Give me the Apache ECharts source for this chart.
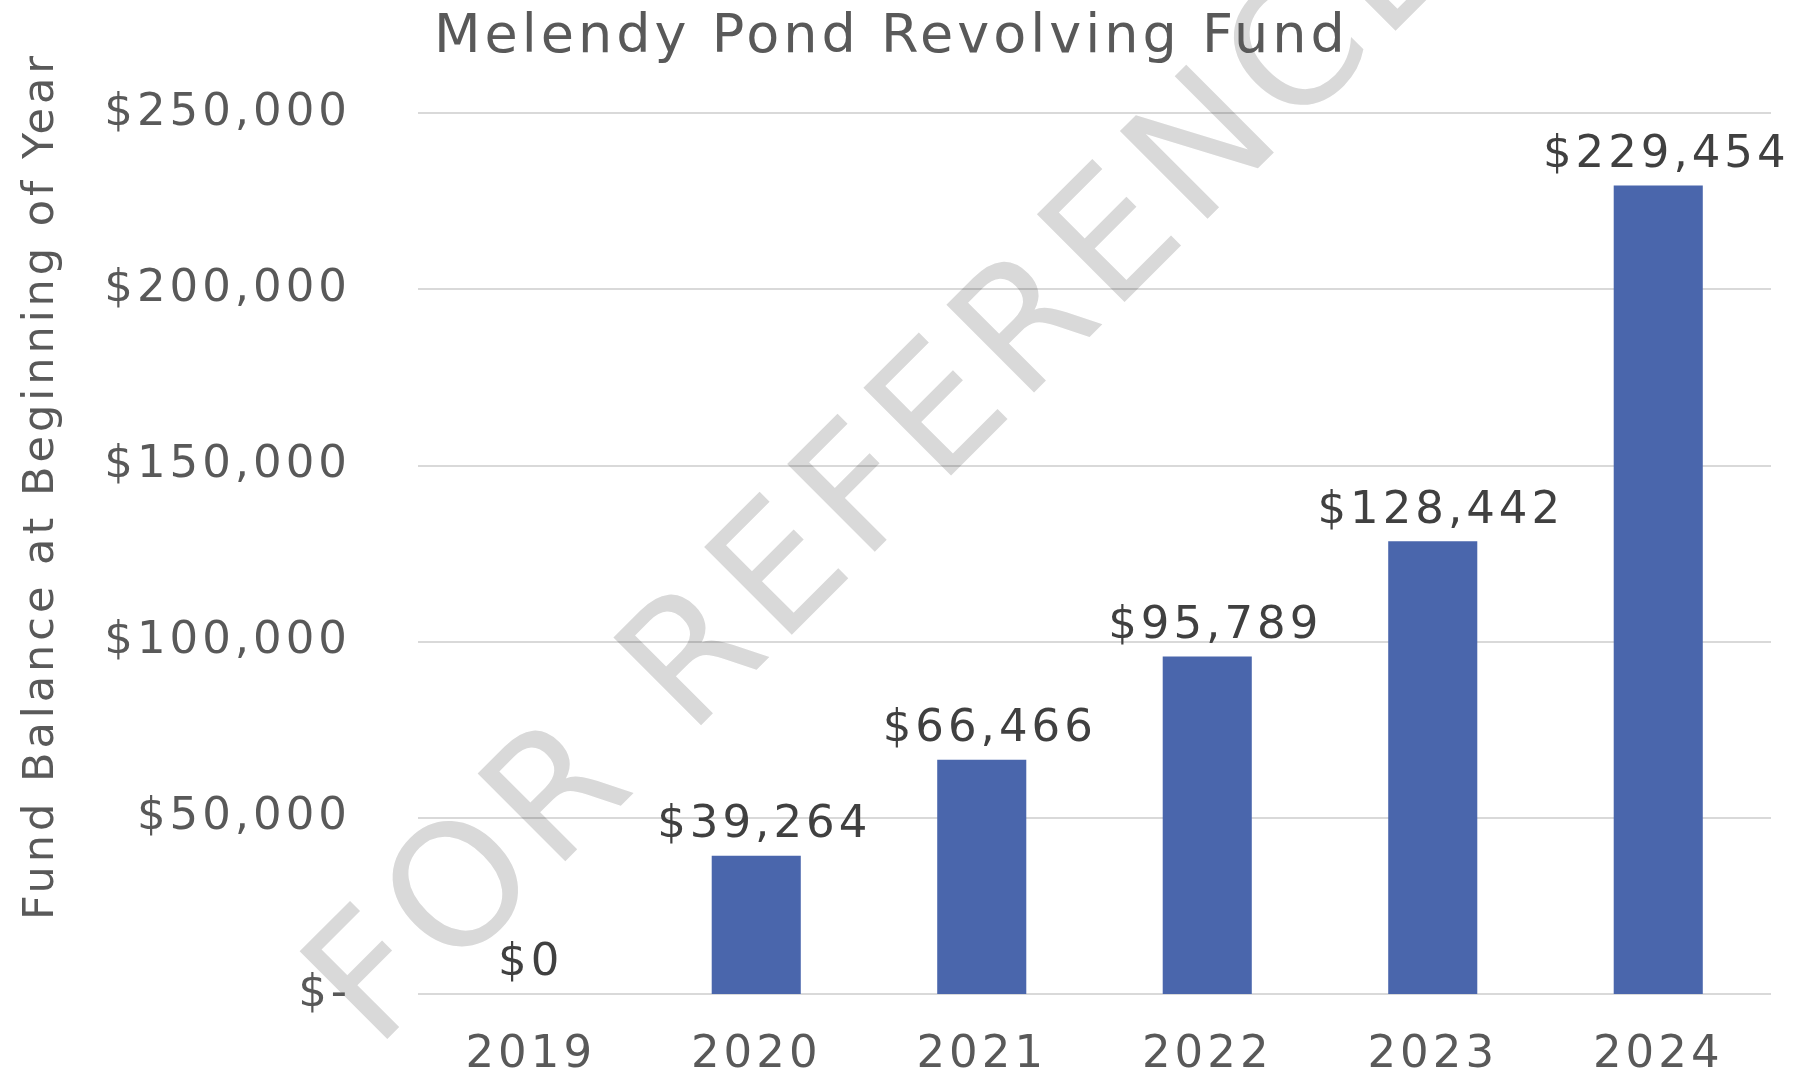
<!DOCTYPE html>
<html>
<head>
<meta charset="utf-8">
<title>Melendy Pond Revolving Fund</title>
<script src="https://cdn.jsdelivr.net/npm/echarts@6/dist/echarts.min.js"></script>
<style>
    html, body { margin: 0; padding: 0; background: #fff; }
    #main { width: 1810px; height: 1081px; }
</style>
</head>
<body>
<div id="main"></div>
<script>
var years = ['2019', '2020', '2021', '2022', '2023', '2024'];
var balances = [0, 39264, 66466, 95789, 128442, 229454];

var FONT = '"DejaVu Sans", Verdana, sans-serif';

function money(v) {
    return '$' + Number(v).toLocaleString('en-US');
}

var chart = {
    render: function () {
        var myChart = echarts.init(document.getElementById('main'));

        var option = {
            backgroundColor: '#ffffff',
            animation: false,

            title: {
                text: 'Melendy Pond Revolving Fund',
                left: 434,
                top: 11,
                padding: 0,
                textStyle: {
                    color: '#595959',
                    fontFamily: FONT,
                    fontSize: 54,
                    fontWeight: 'normal'
                }
            },

            grid: {
                left: 418,
                right: 39,
                top: 113,
                bottom: 87
            },

            xAxis: {
                type: 'category',
                data: years,
                // the zero split line of the y axis draws the base line
                axisLine: { show: false },
                axisTick: { show: false },
                axisLabel: {
                    color: '#595959',
                    fontFamily: FONT,
                    fontSize: 45,
                    margin: 39
                }
            },

            yAxis: {
                type: 'value',
                min: 0,
                max: 250000,
                interval: 50000,
                axisLine: { show: false },
                axisTick: { show: false },
                splitLine: { lineStyle: { color: 'rgba(0, 0, 0, 0.15)', width: 2 } },
                axisLabel: {
                    color: '#595959',
                    fontFamily: FONT,
                    fontSize: 45,
                    margin: 67,
                    formatter: function (v) {
                        return v === 0 ? '$-' : money(v);
                    }
                }
            },

            graphic: [
                {
                    // axis title
                    type: 'text',
                    x: 42,
                    y: 486,
                    rotation: Math.PI / 2,
                    style: {
                        text: 'Fund Balance at Beginning of Year',
                        fill: '#595959',
                        fontFamily: FONT,
                        fontSize: 43,
                        align: 'center',
                        verticalAlign: 'middle'
                    }
                },
                {
                    // watermark on its own layer under the chart
                    type: 'text',
                    zlevel: -1,
                    x: 890,
                    y: 474,
                    rotation: Math.PI / 4,
                    style: {
                        text: 'FOR REFERENCE',
                        fill: '#d9d9d9',
                        fontFamily: FONT,
                        fontSize: 170,
                        align: 'center',
                        verticalAlign: 'middle'
                    }
                }
            ],

            series: [
                {
                    type: 'bar',
                    data: balances.map(function (v) {
                        // Excel nudges the non-zero labels a bit to the right
                        return v === 0 ? { value: v, label: { padding: 0 } } : v;
                    }),
                    barWidth: '39.5%',
                    z: 3,
                    itemStyle: {
                        color: '#4A66AC'
                    },
                    label: {
                        show: true,
                        position: 'top',
                        distance: 8,
                        padding: [0, 0, 0, 16],
                        color: '#404040',
                        fontFamily: FONT,
                        fontSize: 45,
                        formatter: function (p) {
                            return money(p.value);
                        }
                    }
                }
            ]
        };

        myChart.setOption(option);

        // the source chart spaces its letters wider; redraw with canvas letter spacing
        var zr = myChart.getZr();
        var layers = zr.painter.getLayers ? zr.painter.getLayers() : {};
        for (var k in layers) {
            if (layers[k].ctx) {
                layers[k].ctx.letterSpacing = (+k < 0) ? '10px' : '4px';
            }
        }
        zr.painter.refresh(true);

        window.addEventListener('resize', function () {
            myChart.resize();
        });
    }
};

chart.render();
</script>
</body>
</html>
